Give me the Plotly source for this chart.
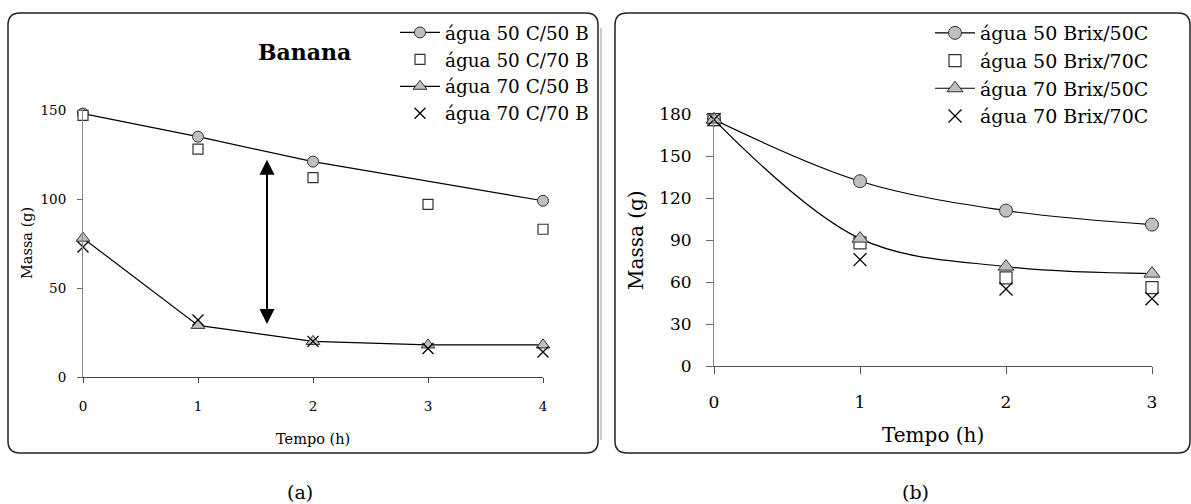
import plotly.graph_objects as go

W, H = 1191, 504

# ---- panel (a): Banana, mass vs time (0-4 h) ----
tempo_a = [0, 1, 2, 3, 4]
a_50c_50b = [148, 135, 121, None, 99]
a_50c_70b = [147, 128, 112, 97, 83]
a_70c_50b = [78, 29, 20, 18, 18]
a_70c_70b = [73, 32, 20, 16, 14]
labels_a = ["água 50 C/50 B", "água 50 C/70 B", "água 70 C/50 B", "água 70 C/70 B"]
ticks_a_x = [0, 1, 2, 3, 4]
ticks_a_y = [0, 50, 100, 150]
arrow_tempo = 1.6
arrow_span = [29, 122]

# ---- panel (b): mass vs time (0-3 h) ----
tempo_b = [0, 1, 2, 3]
b_50brix_50c = [176, 132, 111, 101]
b_50brix_70c = [176, 88, 63, 56]
b_70brix_50c = [176, 91, 71, 66]
b_70brix_70c = [176, 76, 55, 48]
labels_b = ["água 50 Brix/50C", "água 50 Brix/70C", "água 70 Brix/50C", "água 70 Brix/70C"]
ticks_b_x = [0, 1, 2, 3]
ticks_b_y = [0, 30, 60, 90, 120, 150, 180]

FONT = "DejaVu Serif"
GRAY_FILL = "#bfbfbf"
EDGE = "#333333"


def px_x(p):
    return p / W


def px_y(p):
    return 1 - p / H


def series(x, y, name, kind, xa, ya, legend, size, shape="linear"):
    if kind == "circle":
        marker = dict(symbol="circle", size=size, color=GRAY_FILL, line=dict(color=EDGE, width=1))
        mode = "lines+markers"
    elif kind == "square":
        marker = dict(symbol="square", size=size - 1, color="white", line=dict(color=EDGE, width=1.2))
        mode = "markers"
    elif kind == "triangle":
        marker = dict(symbol="triangle-up", size=size + 1, color=GRAY_FILL, line=dict(color=EDGE, width=1))
        mode = "lines+markers"
    else:
        marker = dict(symbol="x-thin", size=size, color="black", line=dict(color="black", width=1.3))
        mode = "markers"
    return go.Scatter(
        x=x, y=y, name=name, mode=mode, marker=marker,
        line=dict(color="black", width=1.2, shape=shape),
        connectgaps=True, cliponaxis=False,
        xaxis=xa, yaxis=ya, legend=legend,
    )


fig = go.Figure()

kinds = ["circle", "square", "triangle", "x"]
for ys, name, kind in zip([a_50c_50b, a_50c_70b, a_70c_50b, a_70c_70b], labels_a, kinds):
    fig.add_trace(series(tempo_a, ys, name, kind, "x", "y", "legend", 11))

for ys, name, kind in zip([b_50brix_50c, b_50brix_70c, b_70brix_50c, b_70brix_70c], labels_b, kinds):
    fig.add_trace(series(tempo_b, ys, name, kind, "x2", "y2", "legend2", 13, shape="spline"))

axis_common = dict(showgrid=False, zeroline=False, showline=True, ticks="outside",
                   automargin=False)

fig.update_layout(
    width=W, height=H,
    margin=dict(l=0, r=0, t=0, b=0),
    paper_bgcolor="white", plot_bgcolor="white",
    font=dict(family=FONT, color="black"),
    showlegend=True,
    xaxis=dict(axis_common, domain=[px_x(83), px_x(543)], range=[0, 4], anchor="y",
               tickvals=ticks_a_x, ticklen=5, linecolor="#444", tickcolor="#444",
               ticklabelstandoff=12, tickfont=dict(family=FONT, size=13.5, color="black")),
    yaxis=dict(axis_common, domain=[px_y(377), px_y(110)], range=[0, 150], anchor="x",
               tickvals=ticks_a_y, ticklen=5, linecolor="#888", tickcolor="#666",
               ticklabelstandoff=8, tickfont=dict(family=FONT, size=13.5, color="black")),
    xaxis2=dict(axis_common, domain=[px_x(714), px_x(1152)], range=[0, 3], anchor="y2",
                tickvals=ticks_b_x, ticklen=7, linecolor="#555", tickcolor="#555",
                ticklabelstandoff=14, tickfont=dict(family=FONT, size=17, color="black")),
    yaxis2=dict(axis_common, domain=[px_y(366), px_y(114)], range=[0, 180], anchor="x2",
                tickvals=ticks_b_y, ticklen=7, linecolor="#888", tickcolor="#666",
                ticklabelstandoff=11, tickfont=dict(family=FONT, size=17, color="black")),
    legend=dict(x=px_x(395), y=px_y(14), xanchor="left", yanchor="top",
                bgcolor="rgba(0,0,0,0)", itemwidth=40,
                font=dict(family=FONT, size=18.4, color="black")),
    legend2=dict(x=px_x(930), y=px_y(14), xanchor="left", yanchor="top",
                 bgcolor="rgba(0,0,0,0)", itemwidth=40,
                 font=dict(family=FONT, size=19, color="black")),
)


def rounded_box(x0, y0, x1, y1, r=12):
    rx, ry = r / W, r / H
    X0, X1 = px_x(x0), px_x(x1)
    YT, YB = px_y(y0), px_y(y1)
    return (f"M {X0+rx},{YT} L {X1-rx},{YT} Q {X1},{YT} {X1},{YT-ry} "
            f"L {X1},{YB+ry} Q {X1},{YB} {X1-rx},{YB} "
            f"L {X0+rx},{YB} Q {X0},{YB} {X0},{YB+ry} "
            f"L {X0},{YT-ry} Q {X0},{YT} {X0+rx},{YT} Z")


fig.add_shape(type="path", xref="paper", yref="paper", path=rounded_box(8, 13, 598, 453),
              line=dict(color="#222", width=1.5), layer="below")
fig.add_shape(type="path", xref="paper", yref="paper", path=rounded_box(615, 13, 1190, 453),
              line=dict(color="#222", width=1.5), layer="below")
fig.add_shape(type="line", xref="paper", yref="paper",
              x0=px_x(601), x1=px_x(601), y0=px_y(28), y1=px_y(440),
              line=dict(color="#999", width=1))

# double-headed arrow between the two groups of curves in panel (a)
fig.add_annotation(x=arrow_tempo, y=arrow_span[1], ax=arrow_tempo, ay=arrow_span[0],
                   xref="x", yref="y", axref="x", ayref="y", text="",
                   showarrow=True, arrowhead=2, startarrowhead=2, arrowside="end+start",
                   arrowsize=1.5, startarrowsize=1.5, arrowwidth=2, arrowcolor="black",
                   standoff=0, startstandoff=0)


def label(text, xp, yp, size, angle=0, bold=False):
    fig.add_annotation(text=f"<b>{text}</b>" if bold else text,
                       x=px_x(xp), y=px_y(yp), xref="paper", yref="paper",
                       xanchor="center", yanchor="middle", showarrow=False, textangle=angle,
                       font=dict(family=FONT, size=size, color="black"))


label("Banana", 304, 52, 22, bold=True)
label("Tempo (h)", 313, 439, 14.5)
label("Massa (g)", 27, 243, 14.5, angle=-90)
label("Tempo (h)", 933, 435, 20)
label("Massa (g)", 636, 240, 20, angle=-90)
label("(a)", 300, 492, 19)
label("(b)", 915, 492, 19)

fig.write_html("out.html")
